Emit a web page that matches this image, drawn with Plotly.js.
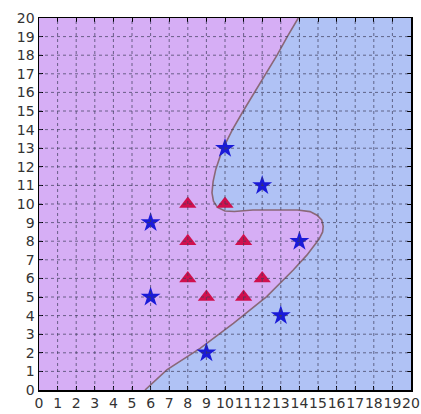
<!DOCTYPE html>
<html>
<head>
<meta charset="utf-8">
<script src="https://cdn.plot.ly/plotly-3.0.1.min.js"></script>
<style>html,body{margin:0;padding:0;background:#fff;}#chart{width:421px;height:414px;}</style>
</head>
<body>
<div id="chart"></div>
<script>
// Class A (red triangles)
const triX = [8, 10, 8, 11, 8, 12, 9, 11];
const triY = [10, 10, 8, 8, 6, 6, 5, 5];
// Class B (blue stars)
const starX = [10, 12, 6, 14, 6, 13, 9];
const starY = [13, 11, 9, 8, 5, 4, 2];
// Decision boundary, bottom to top
const boundX = [5.7, 6.87, 8.66, 10.45, 12.24, 13.67, 14.4, 14.75, 15.05, 15.25, 15.28, 15.2, 14.95, 14.57, 13.9, 12.96, 11.5, 10.5, 10.0, 9.6, 9.38, 9.3, 9.36, 9.5, 9.75, 10.05, 10.4, 10.98, 11.6, 12.2, 12.8, 13.35, 13.94];
const boundY = [0, 1.08, 2.24, 3.58, 5.02, 6.45, 7.25, 7.71, 8.1, 8.5, 8.8, 9.14, 9.4, 9.59, 9.68, 9.68, 9.68, 9.6, 9.62, 9.82, 10.15, 10.6, 11.2, 11.85, 12.6, 13.3, 14.0, 15.0, 16.0, 17.0, 18.0, 19.0, 20];
const ticks = [];
for (let i = 0; i <= 20; i++) ticks.push(i);

const regionX = boundX.concat([0, 0]);
const regionY = boundY.concat([20, 0]);

const data = [
  {x: regionX, y: regionY, type: 'scatter', mode: 'none', fill: 'toself',
   fillcolor: '#d6aef5', hoverinfo: 'skip', showlegend: false},
  {x: boundX, y: boundY, type: 'scatter', mode: 'lines',
   line: {color: '#8a6878', width: 1.6}, showlegend: false},
  {x: triX, y: triY, type: 'scatter', mode: 'markers',
   marker: {symbol: 'triangle-up', size: 15, color: '#d0104e'}, showlegend: false},
  {x: starX, y: starY, type: 'scatter', mode: 'markers',
   marker: {symbol: 'star', size: 15, color: '#1a1ad8'}, showlegend: false}
];

// dashed grid drawn above the filled regions
const gridShapes = [];
ticks.slice(1, -1).forEach(function (t) {
  gridShapes.push({type: 'line', xref: 'x', yref: 'y', x0: t, x1: t, y0: 0, y1: 20, layer: 'above',
    line: {color: 'rgba(60,60,90,0.7)', width: 1, dash: '3px,3px'}});
  gridShapes.push({type: 'line', xref: 'x', yref: 'y', x0: 0, x1: 20, y0: t, y1: t, layer: 'above',
    line: {color: 'rgba(60,60,90,0.7)', width: 1, dash: '3px,3px'}});
});

const axisCommon = {
  range: [0, 20], tickvals: ticks, ticktext: ticks.map(String), tickangle: 0,
  showgrid: false, zeroline: false, showline: true, linecolor: '#000', linewidth: 1.5, mirror: 'ticks',
  ticks: 'inside', ticklen: 4, tickcolor: '#000', tickwidth: 1, layer: 'above traces',
  tickfont: {family: 'DejaVu Sans', size: 14, color: '#333'}, fixedrange: true
};

const layout = {
  width: 421, height: 414,
  margin: {l: 39, r: 10, t: 18, b: 24},
  paper_bgcolor: '#ffffff', plot_bgcolor: '#b0c2f5',
  xaxis: Object.assign({}, axisCommon, {automargin: false}),
  yaxis: Object.assign({}, axisCommon, {automargin: false}),
  shapes: gridShapes,
  showlegend: false
};

Plotly.newPlot('chart', data, layout, {displayModeBar: false, staticPlot: true});
</script>
</body>
</html>
